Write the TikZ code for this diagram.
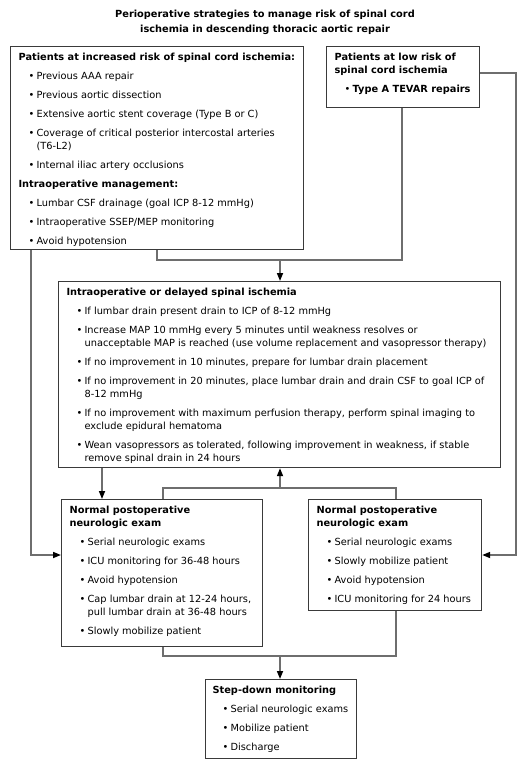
\documentclass[tikz,border=0pt]{standalone}
\usepackage{fontspec}
\setmainfont{DejaVu Sans}
\usetikzlibrary{arrows.meta}

\definecolor{boxline}{HTML}{3A3A3A}
\definecolor{linkline}{HTML}{6E6E6E}

% box contents: headings, bullet items and a fixed-size top-aligned frame
\newcommand\hd[1]{{\bfseries #1\par}}
\newcommand\gap{\vspace{6pt}}
\newcommand\bul[1]{\gap{\leftskip=18pt\noindent\llap{\makebox[8pt][l]{\textbullet}}#1\par}}
\newcommand\boxtext[3]{\parbox[c][#2][t]{#1}{\raggedright #3}}

\tikzset{
  box/.style={draw=boxline, line width=1.2pt, inner xsep=8pt, inner ysep=6pt,
    anchor=north west, font=\fontsize{9.8}{13}\selectfont},
  link/.style={draw=linkline, line width=1.6pt},
  arr/.style={link, -{Triangle[length=8pt,width=6pt,color=black]}},
}

\begin{document}
\begin{tikzpicture}[x=1pt, y=-1pt]
\useasboundingbox (0,0) rectangle (529,770);

\node[font=\fontsize{9.8}{15}\selectfont\bfseries, align=center] (title) at (265,22)
  {Perioperative strategies to manage risk of spinal cord\\ischemia in descending thoracic aortic repair};

\node[box] (risk) at (10,46) {\boxtext{277pt}{191pt}{%
  \hd{Patients at increased risk of spinal cord ischemia:}
  \bul{Previous AAA repair}
  \bul{Previous aortic dissection}
  \bul{Extensive aortic stent coverage (Type B or C)}
  \bul{Coverage of critical posterior intercostal arteries\\(T6-L2)}
  \bul{Internal iliac artery occlusions}
  \gap\hd{Intraoperative management:}
  \bul{Lumbar CSF drainage (goal ICP 8-12 mmHg)}
  \bul{Intraoperative SSEP/MEP monitoring}
  \bul{Avoid hypotension}}};

\node[box] (low) at (326,46) {\boxtext{137pt}{49pt}{%
  \hd{Patients at low risk of\\spinal cord ischemia}
  \bul{\bfseries Type A TEVAR repairs}}};

\node[box] (spinal) at (58,281) {\boxtext{426pt}{174pt}{%
  \hd{Intraoperative or delayed spinal ischemia}
  \bul{If lumbar drain present drain to ICP of 8-12 mmHg}
  \bul{Increase MAP 10 mmHg every 5 minutes until weakness resolves or\\unacceptable MAP is reached (use volume replacement and vasopressor therapy)}
  \bul{If no improvement in 10 minutes, prepare for lumbar drain placement}
  \bul{If no improvement in 20 minutes, place lumbar drain and drain CSF to goal ICP of\\8-12 mmHg}
  \bul{If no improvement with maximum perfusion therapy, perform spinal imaging to\\exclude epidural hematoma}
  \bul{Wean vasopressors as tolerated, following improvement in weakness, if stable\\remove spinal drain in 24 hours}}};

\node[box] (postA) at (61,499) {\boxtext{185pt}{135pt}{%
  \hd{Normal postoperative\\neurologic exam}
  \bul{Serial neurologic exams}
  \bul{ICU monitoring for 36-48 hours}
  \bul{Avoid hypotension}
  \bul{Cap lumbar drain at 12-24 hours,\\pull lumbar drain at 36-48 hours}
  \bul{Slowly mobilize patient}}};

\node[box] (postB) at (308,499) {\boxtext{157pt}{99pt}{%
  \hd{Normal postoperative\\neurologic exam}
  \bul{Serial neurologic exams}
  \bul{Slowly mobilize patient}
  \bul{Avoid hypotension}
  \bul{ICU monitoring for 24 hours}}};

\node[box, inner xsep=7pt] (step) at (205,679) {\boxtext{137pt}{67pt}{%
  \hd{Step-down monitoring}
  \bul{Serial neurologic exams}
  \bul{Mobilize patient}
  \bul{Discharge}}};

% both risk groups feed the spinal ischemia box
\coordinate (r1) at ([xshift=147pt]risk.south west);
\coordinate (l1) at ([xshift=76pt]low.south west);
\coordinate (mergeA) at (280,260);
\draw[link] (r1) |- (mergeA) -| (l1);
\draw[arr] (mergeA) -- (mergeA |- spinal.north);

% direct routes to the postoperative boxes
\coordinate (r2) at ([xshift=21pt]risk.south west);
\coordinate (la) at ([yshift=-56pt]postA.north west);
\draw[arr] (r2) |- (la);
\coordinate (rb) at ([yshift=-27pt]low.north east);
\coordinate (ra) at ([yshift=-56pt]postB.north east);
\draw[arr] (rb) -- ++(36,0) |- (ra);

% spinal ischemia box to and from the postoperative boxes
\coordinate (s1) at ([xshift=44pt]spinal.south west);
\draw[arr] (s1) -- (s1 |- postA.north);
\coordinate (p1) at ([xshift=102pt]postA.north west);
\coordinate (p2) at ([xshift=88pt]postB.north west);
\coordinate (mergeB) at (280,488);
\draw[link] (p1) |- (mergeB) -| (p2);
\draw[arr] (mergeB) -- (mergeB |- spinal.south);

% postoperative boxes to step-down monitoring
\coordinate (q1) at ([xshift=102pt]postA.south west);
\coordinate (q2) at ([xshift=88pt]postB.south west);
\coordinate (mergeC) at (280,656);
\draw[link] (q1) |- (mergeC) -| (q2);
\draw[arr] (mergeC) -- (mergeC |- step.north);
\end{tikzpicture}
\end{document}
